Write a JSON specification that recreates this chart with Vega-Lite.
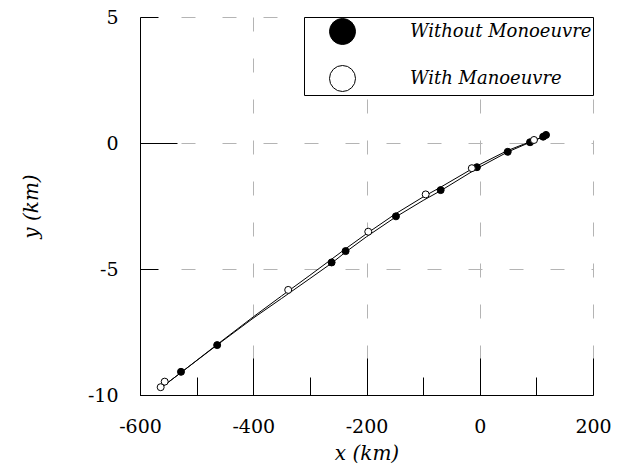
{
  "$schema": "https://vega.github.io/schema/vega-lite/v6.json",
  "width": 453,
  "height": 378,
  "autosize": {"type": "none"},
  "padding": {"left": 140, "top": 17, "right": 33, "bottom": 79},
  "background": "white",
  "config": {"view": {"stroke": null}, "font": "DejaVu Serif"},
  "datasets": {
    "lines": [
      {"series": "without", "x": -565, "y": -9.75},
      {"series": "without", "x": -527, "y": -9.1},
      {"series": "without", "x": -464, "y": -8.02},
      {"series": "without", "x": -400, "y": -6.95},
      {"series": "without", "x": -350, "y": -6.17},
      {"series": "without", "x": -300, "y": -5.38},
      {"series": "without", "x": -261, "y": -4.76},
      {"series": "without", "x": -237, "y": -4.33},
      {"series": "without", "x": -200, "y": -3.72},
      {"series": "without", "x": -148, "y": -2.93},
      {"series": "without", "x": -100, "y": -2.28},
      {"series": "without", "x": -68, "y": -1.88},
      {"series": "without", "x": -4, "y": -1.0},
      {"series": "without", "x": 49, "y": -0.36},
      {"series": "without", "x": 88, "y": 0.02},
      {"series": "without", "x": 118, "y": 0.3},
      {"series": "with", "x": -565, "y": -9.75},
      {"series": "with", "x": -527, "y": -9.1},
      {"series": "with", "x": -464, "y": -8.0},
      {"series": "with", "x": -400, "y": -6.9},
      {"series": "with", "x": -350, "y": -6.07},
      {"series": "with", "x": -300, "y": -5.25},
      {"series": "with", "x": -261, "y": -4.6},
      {"series": "with", "x": -237, "y": -4.2},
      {"series": "with", "x": -200, "y": -3.6},
      {"series": "with", "x": -148, "y": -2.8},
      {"series": "with", "x": -100, "y": -2.14},
      {"series": "with", "x": -68, "y": -1.74},
      {"series": "with", "x": -4, "y": -0.9},
      {"series": "with", "x": 49, "y": -0.3},
      {"series": "with", "x": 90, "y": 0.06},
      {"series": "with", "x": 118, "y": 0.3}
    ],
    "points": [
      {"series": "Without Monoeuvre", "x": -527.6, "y": -9.08},
      {"series": "Without Monoeuvre", "x": -463.7, "y": -8.02},
      {"series": "Without Monoeuvre", "x": -261.6, "y": -4.74},
      {"series": "Without Monoeuvre", "x": -236.9, "y": -4.29},
      {"series": "Without Monoeuvre", "x": -148, "y": -2.91},
      {"series": "Without Monoeuvre", "x": -69, "y": -1.87},
      {"series": "Without Monoeuvre", "x": -5, "y": -0.96},
      {"series": "Without Monoeuvre", "x": 49.4, "y": -0.35},
      {"series": "Without Monoeuvre", "x": 88.8, "y": 0.03},
      {"series": "Without Monoeuvre", "x": 112, "y": 0.25},
      {"series": "Without Monoeuvre", "x": 117, "y": 0.32},
      {"series": "With Manoeuvre", "x": -563.5, "y": -9.69},
      {"series": "With Manoeuvre", "x": -556.4, "y": -9.47},
      {"series": "With Manoeuvre", "x": -338.3, "y": -5.83},
      {"series": "With Manoeuvre", "x": -196.9, "y": -3.52},
      {"series": "With Manoeuvre", "x": -95.5, "y": -2.04},
      {"series": "With Manoeuvre", "x": -14, "y": -1.0},
      {"series": "With Manoeuvre", "x": 95.8, "y": 0.12}
    ]
  },
  "layer": [
    {
      "data": {"name": "lines"},
      "mark": {"type": "line", "color": "black", "strokeWidth": 1},
      "encoding": {
        "x": {
          "field": "x", "type": "quantitative",
          "scale": {"domain": [-600, 200], "nice": false, "zero": false},
          "axis": {
            "orient": "bottom",
            "values": [-600, -400, -200, 0, 200],
            "labelExpr": "'' + datum.value",
            "tickSize": -37, "tickColor": "black", "tickWidth": 1,
            "domainColor": "black", "domainWidth": 1,
            "grid": true, "gridColor": "#b4b4b4", "gridDash": [14, 27], "gridWidth": 1,
            "labelFont": "DejaVu Serif", "labelFontSize": 19, "labelColor": "black",
            "labelPadding": 59, "labelFlush": false, "labelOverlap": false,
            "title": "x (km)", "titleFont": "DejaVu Serif", "titleFontStyle": "italic",
            "titleFontWeight": "normal", "titleFontSize": 20, "titleColor": "black", "titlePadding": 7
          }
        },
        "y": {
          "field": "y", "type": "quantitative",
          "scale": {"domain": [-10, 5], "nice": false, "zero": false},
          "axis": {
            "orient": "left",
            "values": [-10, -5, 0, 5],
            "labelExpr": "'' + datum.value",
            "tickSize": -18, "tickColor": "black", "tickWidth": 1,
            "domainColor": "black", "domainWidth": 1,
            "grid": true, "gridColor": "#b4b4b4", "gridDash": [14, 27], "gridWidth": 1,
            "labelFont": "DejaVu Serif", "labelFontSize": 19, "labelColor": "black",
            "labelPadding": 40, "labelFlush": false, "labelOverlap": false,
            "title": "y (km)", "titleFont": "DejaVu Serif", "titleFontStyle": "italic",
            "titleFontWeight": "normal", "titleFontSize": 20, "titleColor": "black", "titlePadding": 46
          }
        },
        "detail": {"field": "series", "type": "nominal"}
      }
    },
    {
      "data": {"name": "points"},
      "mark": {"type": "point", "shape": "circle", "filled": true, "stroke": "black", "strokeWidth": 1, "size": 49, "opacity": 1},
      "encoding": {
        "x": {
          "field": "x", "type": "quantitative",
          "scale": {"domain": [-600, 200], "nice": false, "zero": false},
          "axis": {
            "orient": "bottom",
            "values": [-500, -300, -100, 100],
            "tickSize": -18, "tickColor": "black", "tickWidth": 1,
            "domain": false, "grid": false, "labels": false, "title": null
          }
        },
        "y": {
          "field": "y", "type": "quantitative",
          "scale": {"domain": [-10, 5], "nice": false, "zero": false},
          "axis": {
            "orient": "left",
            "values": [-10, 0],
            "tickSize": -37, "tickColor": "black", "tickWidth": 1,
            "domain": false, "grid": false, "labels": false, "title": null
          }
        },
        "fill": {
          "field": "series", "type": "nominal",
          "scale": {"domain": ["Without Monoeuvre", "With Manoeuvre"], "range": ["black", "white"]},
          "legend": {
            "title": null, "orient": "top-right", "offset": 0, "padding": 1,
            "symbolType": "circle", "symbolSize": 676,
            "symbolStrokeColor": "black", "symbolStrokeWidth": 1,
            "symbolOffset": 24, "labelOffset": 54, "rowPadding": 16,
            "labelFont": "DejaVu Serif", "labelFontStyle": "italic", "labelFontSize": 18,
            "labelColor": "black", "labelLimit": 400,
            "strokeColor": "black", "fillColor": "white", "cornerRadius": 0
          }
        }
      }
    }
  ],
  "resolve": {"axis": {"x": "independent", "y": "independent"}}
}
